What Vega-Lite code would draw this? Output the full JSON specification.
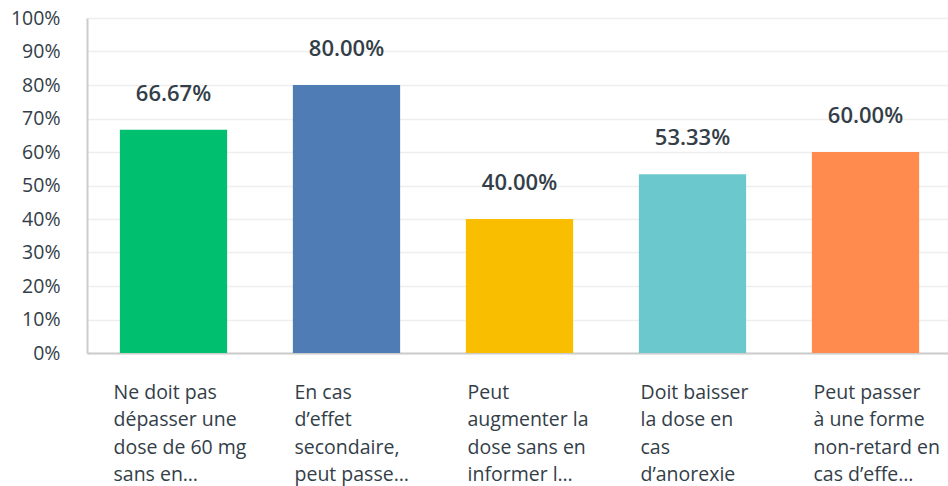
{
  "$schema": "https://vega.github.io/schema/vega-lite/v6.json",
  "autosize": "none",
  "padding": {"left": 87, "top": 18, "right": 0, "bottom": 133},
  "width": 865,
  "height": 335,
  "background": "white",
  "config": {
    "view": {"stroke": null},
    "font": "Open Sans"
  },
  "data": {
    "values": [
      {"label": "Ne doit pas|dépasser une|dose de 60 mg|sans en…", "value": 0.6667, "color": "#00BF6F"},
      {"label": "En cas|d’effet|secondaire,|peut passe…", "value": 0.80, "color": "#507CB6"},
      {"label": "Peut|augmenter la|dose sans en|informer l…", "value": 0.40, "color": "#F9BE00"},
      {"label": "Doit baisser|la dose en|cas|d’anorexie", "value": 0.5333, "color": "#6BC8CD"},
      {"label": "Peut passer|à une forme|non-retard en|cas d’effe…", "value": 0.60, "color": "#FF8B4F"}
    ]
  },
  "encoding": {
    "x": {
      "field": "label",
      "type": "nominal",
      "sort": null,
      "scale": {"paddingInner": 0.38, "paddingOuter": 0.19},
      "axis": {
        "title": null,
        "labelAngle": 0,
        "labelExpr": "split(datum.label, '|')",
        "labelAlign": "left",
        "labelBaseline": "top",
        "labelOffset": {"condition": {"test": "indexof(datum.value, 'Ne doit') == 0", "value": -60}, "value": -52},
        "labelPadding": 30,
        "labelLineHeight": 27.5,
        "labelFontSize": 19.5,
        "labelColor": "#333e48",
        "labelLimit": 0,
        "labelOverlap": false,
        "ticks": false,
        "domainColor": "#cccccc",
        "domainWidth": 2,
        "grid": false
      }
    },
    "y": {
      "field": "value",
      "type": "quantitative",
      "scale": {"domain": [0, 1], "nice": false},
      "axis": {
        "title": null,
        "format": ".0%",
        "values": [0, 0.1, 0.2, 0.3, 0.4, 0.5, 0.6, 0.7, 0.8, 0.9, 1],
        "labelFontSize": 19.5,
        "labelColor": "#333e48",
        "labelPadding": 27,
        "ticks": false,
        "domainColor": "#cccccc",
        "domainWidth": 2,
        "gridColor": "#eeeeee",
        "gridWidth": 1.5
      }
    }
  },
  "layer": [
    {
      "mark": {"type": "bar"},
      "encoding": {
        "color": {"field": "color", "type": "nominal", "scale": null}
      }
    },
    {
      "mark": {"type": "text", "baseline": "middle", "dy": -36, "fontSize": 22, "fontWeight": 600, "color": "#333e48"},
      "encoding": {
        "text": {"field": "value", "type": "quantitative", "format": ".2%"}
      }
    }
  ]
}
